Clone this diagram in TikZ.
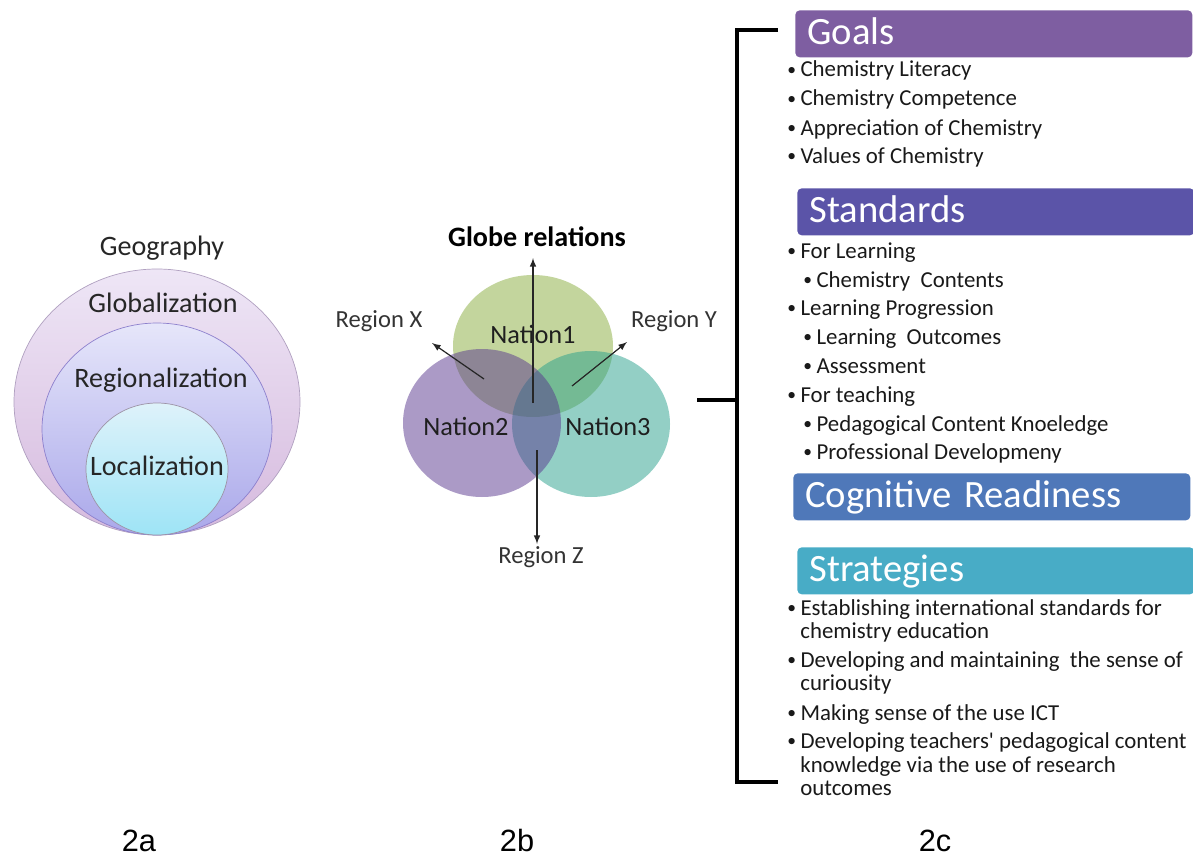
\documentclass[tikz,border=0pt]{standalone}
\usepackage{fontspec}
\setmainfont{Carlito}
\newfontfamily\figfont{Liberation Sans}
\usepackage{tikz}

\definecolor{globtop}{RGB}{238,230,246}
\definecolor{globbot}{RGB}{214,186,222}
\definecolor{regtop}{RGB}{230,230,250}
\definecolor{regbot}{RGB}{170,168,234}
\definecolor{loctop}{RGB}{222,242,250}
\definecolor{locbot}{RGB}{158,228,246}
\definecolor{geoedge}{RGB}{176,160,192}
\definecolor{vgreen}{RGB}{135,172,60}
\definecolor{vteal}{RGB}{40,160,140}
\definecolor{vpurple}{RGB}{88,54,142}
\definecolor{goalcol}{RGB}{126,94,161}
\definecolor{stdcol}{RGB}{91,84,168}
\definecolor{cogcol}{RGB}{79,120,185}
\definecolor{stratcol}{RGB}{72,172,198}

\newcommand{\bl}{\makebox[7.5pt][l]{\raisebox{0.15ex}{\fontsize{10}{10}\selectfont\textbullet}}}

\tikzset{
	bullitem/.style={anchor=base west, inner sep=0pt, text=black!90, font=\fontsize{13}{15}\selectfont},
	titlebox/.style={anchor=north west, rounded corners=2.5pt, text=white, align=left,
		text width=7.46cm, inner xsep=0.24cm, inner ysep=0pt, minimum height=0.94cm,
		text height=16pt, text depth=4pt, font=\fontsize{22}{24}\selectfont},
	geotext/.style={anchor=base, inner sep=0pt, text=black!85, font=\fontsize{16}{18}\selectfont},
	regtext/.style={anchor=base, inner sep=0pt, text=black!80, font=\fontsize{14}{16}\selectfont},
	natext/.style={anchor=base, inner sep=0pt, text=black!88, font=\fontsize{15}{17}\selectfont},
	figlab/.style={anchor=base, inner sep=0pt, font=\figfont\fontsize{17.5}{20}\selectfont},
	bracket/.style={line width=2.8pt},
}

\begin{document}
\begin{tikzpicture}[x=0.02cm, y=-0.02cm, >=latex]
		\useasboundingbox (0,0) rectangle (1193,855);
		
		% 2a
		\draw[geoedge, top color=globtop, bottom color=globbot] (157,402) ellipse [x radius=143, y radius=133];
		\draw[geoedge!80!blue, top color=regtop, bottom color=regbot] (157,429) ellipse [x radius=115, y radius=106];
		\draw[geoedge!60!gray, top color=loctop, bottom color=locbot] (157,469) ellipse [x radius=71, y radius=66];
		\node[geotext] (geo) at (162,255) {Geography};
		\node[geotext] (glob) at (163,312) {Globalization};
		\node[geotext] (regio) at (161,387) {Regionalization};
		\node[geotext] (local) at (157,475) {Localization};
		
		% 2b
		\fill[vgreen, fill opacity=.5] (533,346) ellipse [x radius=80, y radius=71];
		\fill[vteal, fill opacity=.5] (591,424) ellipse [x radius=79, y radius=73];
		\fill[vpurple, fill opacity=.5] (482,423) ellipse [x radius=79, y radius=74];
		\node[natext] (nat1) at (533,343) {Nation1};
		\node[natext] (nat2) at (466,435) {Nation2};
		\node[natext] (nat3) at (608,435) {Nation3};
		\node[regtext, font=\bfseries\fontsize{16}{18}\selectfont, text=black] (globe) at (537,246) {Globe relations};
		\node[regtext] (regx) at (379,327) {Region X};
		\node[regtext] (regy) at (674,327) {Region Y};
		\node[regtext] (regz) at (541,563) {Region Z};
		\coordinate (cs) at (533,403);
		\coordinate (ce) at (533,258);
		\coordinate (xs) at (484,379);
		\coordinate (xe) at (432,343);
		\coordinate (ys) at (572,386);
		\coordinate (ye) at (627,342);
		\coordinate (zs) at (537,450);
		\coordinate (ze) at (537,544);
		\draw[->, line width=.7pt, black!85] (cs) -- (ce);
		\draw[->, line width=.7pt, black!85] (xs) -- (xe);
		\draw[->, line width=.7pt, black!85] (ys) -- (ye);
		\draw[->, line width=.7pt, black!85] (zs) -- (ze);
		
		% 2c
		\coordinate (bt1) at (778,30);
		\coordinate (bt2) at (737,30);
		\coordinate (bb2) at (737,782);
		\coordinate (bb1) at (778,782);
		\coordinate (bm1) at (697,400);
		\coordinate (bm2) at (737,400);
		\draw[bracket] (bt1) -- (bt2) -- (bb2) -- (bb1);
		\draw[bracket] (bm1) -- (bm2);
		
		\node[titlebox, fill=goalcol] (goals) at (795,10) {Goals};
		\node[bullitem] (g1) at (787,77) {\bl Chemistry Literacy};
		\node[bullitem] (g2) at (787,106) {\bl Chemistry Competence};
		\node[bullitem] (g3) at (787,135) {\bl Appreciation of Chemistry};
		\node[bullitem] (g4) at (787,163) {\bl Values of Chemistry};
		
		\node[titlebox, fill=stdcol] (std) at (797,188) {Standards};
		\node[bullitem] (s1) at (787,258) {\bl For Learning};
		\node[bullitem] (s2) at (803,287) {\bl Chemistry\ \ Contents};
		\node[bullitem] (s3) at (787,315) {\bl Learning Progression};
		\node[bullitem] (s4) at (803,344) {\bl Learning\ \ Outcomes};
		\node[bullitem] (s5) at (803,373) {\bl Assessment};
		\node[bullitem] (s6) at (787,402) {\bl For teaching};
		\node[bullitem] (s7) at (803,431) {\bl Pedagogical Content Knoeledge};
		\node[bullitem] (s8) at (803,459) {\bl Professional Developmeny};
		
		\node[titlebox, fill=cogcol] (cog) at (793,473) {Cognitive Readiness};
		
		\node[titlebox, fill=stratcol] (strat) at (797,547) {Strategies};
		\node[bullitem] (t1) at (787,615) {\bl Establishing international standards for};
		\node[bullitem] (t1b) at (800,638) {chemistry education};
		\node[bullitem] (t2) at (787,667) {\bl Developing and maintaining\ \ the sense of};
		\node[bullitem] (t2b) at (800,690) {curiousity};
		\node[bullitem] (t3) at (787,720) {\bl Making sense of the use ICT};
		\node[bullitem] (t4) at (787,748) {\bl Developing teachers\textquotesingle\ pedagogical content};
		\node[bullitem] (t4b) at (800,772) {knowledge via the use of research};
		\node[bullitem] (t4c) at (800,795) {outcomes};
		
		% captions
		\node[figlab] (lab2a) at (139,851) {2a};
		\node[figlab] (lab2b) at (517,851) {2b};
		\node[figlab] (lab2c) at (935,851) {2c};
\end{tikzpicture}
\end{document}
